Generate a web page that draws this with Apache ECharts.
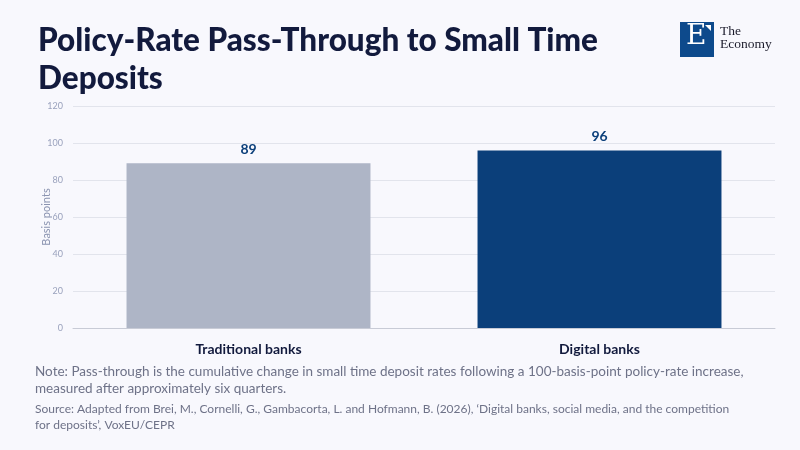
<!DOCTYPE html>
<html><head><meta charset="utf-8">
<script src="https://cdn.jsdelivr.net/npm/echarts@6/dist/echarts.min.js"></script>
<style>html,body{margin:0;padding:0;background:#f8f8fd;}#c{width:800px;height:450px;}</style>
</head><body><div id="c"></div>
<script>
const categories = ['Traditional banks', 'Digital banks'];
const values = [89, 96];
const barColors = ['#aeb5c6', '#0b3f7a'];
const yTicks = [0, 20, 40, 60, 80, 100, 120];

const FONT = '"Source Sans Pro","Lato","Noto Sans",sans-serif';
const chart = echarts.init(document.getElementById('c'));
chart.setOption({
  backgroundColor: '#f8f8fd',
  title: {
    text: 'Policy-Rate Pass-Through to Small Time\nDeposits',
    left: 33, top: 17,
    textStyle: { fontFamily: FONT, fontSize: 31.5, fontWeight: 900, color: '#121a3d', lineHeight: 38 }
  },
  grid: { left: 73, right: 25, top: 106, bottom: 122 },
  xAxis: {
    type: 'category', data: categories,
    axisLine: { lineStyle: { color: '#c8cbd6' } },
    axisTick: { show: false },
    axisLabel: { fontFamily: FONT, fontSize: 14, fontWeight: 'bold', color: '#121a3d', margin: 14 }
  },
  yAxis: {
    type: 'value', min: yTicks[0], max: yTicks[yTicks.length - 1], interval: 20,
    name: 'Basis points', nameLocation: 'middle', nameGap: 21, nameMoveOverlap: false,
    nameTextStyle: { fontFamily: FONT, fontSize: 11, color: '#8a93b0' },
    axisLine: { show: false }, axisTick: { show: false },
    axisLabel: { fontFamily: FONT, fontSize: 9, color: '#9aa2bd', margin: 10 },
    splitLine: { lineStyle: { color: '#e2e4ec' } }
  },
  series: [{
    type: 'bar', barWidth: '69.5%',
    data: values.map((v, i) => ({ value: v, itemStyle: { color: barColors[i] } })),
    label: { show: true, position: 'top', distance: 7, fontFamily: FONT, fontSize: 14, fontWeight: 'bold', color: '#0b3f7a' }
  }],
  graphic: [
    { type: 'rect', shape: { x: 680, y: 22, width: 34, height: 35 }, style: { fill: '#0d4a8c' } },
    { type: 'polygon', shape: { points: [[705, 25], [711, 25], [711, 31]] }, style: { fill: '#ffffff' } },
    { type: 'text', left: 686, top: 23, style: { text: 'E', fontFamily: '"DejaVu Serif","Liberation Serif",serif', fontSize: 28, fill: '#ffffff' } },
    { type: 'text', left: 720, top: 24, style: { text: 'The\nEconomy', fontFamily: '"Liberation Serif","DejaVu Serif",serif', fontSize: 13.5, lineHeight: 13, fill: '#1b1b2b' } },
    { type: 'text', left: 35, top: 363, style: { text: 'Note: Pass-through is the cumulative change in small time deposit rates following a 100-basis-point policy-rate increase,\nmeasured after approximately six quarters.', fontFamily: FONT, fontSize: 13.5, lineHeight: 17, fill: '#6e7288' } },
    { type: 'text', left: 35, top: 401, style: { text: 'Source: Adapted from Brei, M., Cornelli, G., Gambacorta, L. and Hofmann, B. (2026), \u2018Digital banks, social media, and the competition\nfor deposits\u2019, VoxEU/CEPR', fontFamily: FONT, fontSize: 12, lineHeight: 16, fill: '#6e7288' } }
  ]
});
</script></body></html>
